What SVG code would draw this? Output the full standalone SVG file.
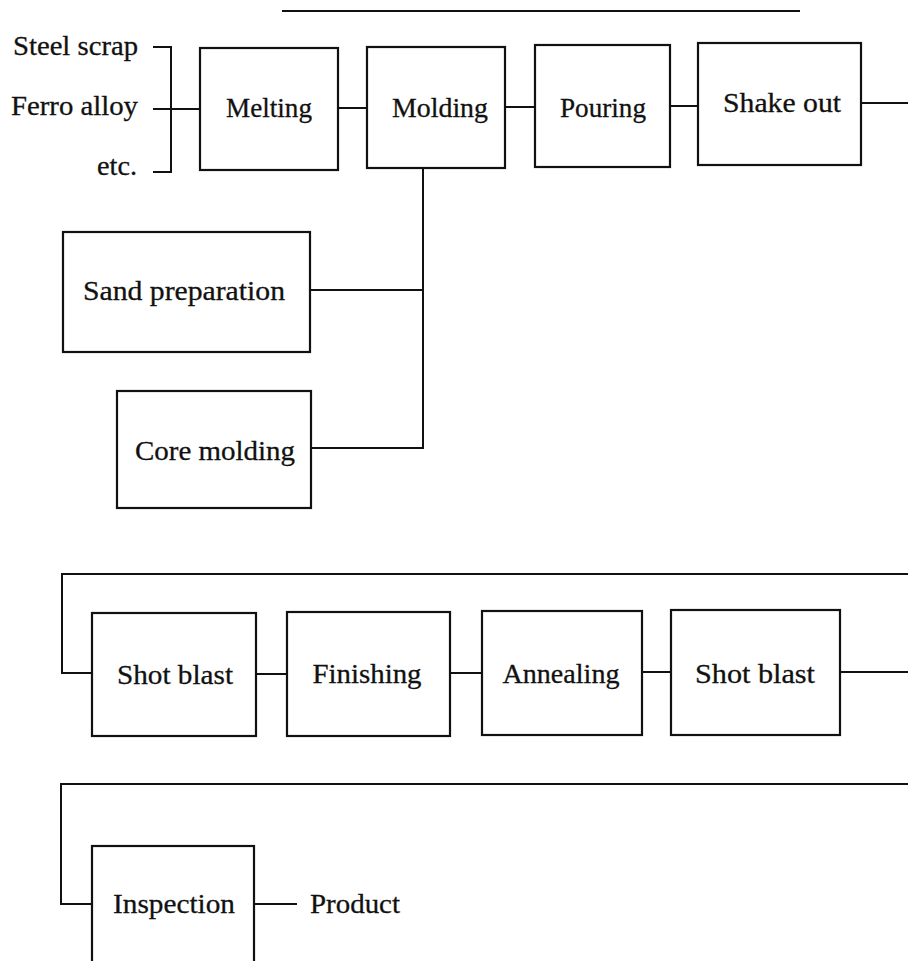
<svg xmlns="http://www.w3.org/2000/svg" width="908" height="961" viewBox="0 0 908 961">
  <style>
    .box { fill: none; stroke: #111; stroke-width: 2.2; }
    .ln { fill: none; stroke: #111; stroke-width: 2; }
    text { font-family: "Liberation Serif", "Times New Roman", serif; font-size: 28px; fill: #111; stroke: #111; stroke-width: 0.3; }
  </style>
  <rect width="908" height="961" fill="#fff"/>

  <!-- title rule -->
  <line class="ln" x1="282" y1="11" x2="800" y2="11" stroke-width="2.5"/>

  <!-- raw materials -->
  <g id="inputs">
    <text x="13" y="55" textLength="125" lengthAdjust="spacingAndGlyphs">Steel scrap</text>
    <text x="11" y="115" textLength="127" lengthAdjust="spacingAndGlyphs">Ferro alloy</text>
    <text x="97" y="175" textLength="40" lengthAdjust="spacingAndGlyphs">etc.</text>
  </g>

  <g id="connectors">
    <!-- input bracket -->
    <polyline class="ln" points="153,47 171,47 171,172 153,172"/>
    <line class="ln" x1="153" y1="109" x2="200" y2="109"/>
    <!-- row 1 -->
    <line class="ln" x1="338" y1="108" x2="367" y2="108"/>
    <line class="ln" x1="505" y1="107" x2="535" y2="107"/>
    <line class="ln" x1="670" y1="106" x2="698" y2="106"/>
    <line class="ln" x1="861" y1="103" x2="908" y2="103"/>
    <!-- molding feeders -->
    <polyline class="ln" points="423,168 423,448 311,448"/>
    <line class="ln" x1="310" y1="290" x2="423" y2="290"/>
    <!-- return to row 2 -->
    <polyline class="ln" points="908,574 62,574 62,673 92,673"/>
    <line class="ln" x1="256" y1="674" x2="287" y2="674"/>
    <line class="ln" x1="450" y1="673" x2="482" y2="673"/>
    <line class="ln" x1="642" y1="672" x2="671" y2="672"/>
    <line class="ln" x1="840" y1="672" x2="908" y2="672"/>
    <!-- return to row 3 -->
    <polyline class="ln" points="908,784 61,784 61,904 92,904"/>
    <line class="ln" x1="254" y1="904" x2="297" y2="904"/>
  </g>

  <g id="melting">
    <rect class="box" x="200" y="48" width="138" height="122"/>
    <text x="269" y="117" text-anchor="middle" textLength="86" lengthAdjust="spacingAndGlyphs">Melting</text>
  </g>
  <g id="molding">
    <rect class="box" x="367" y="47" width="138" height="121"/>
    <text x="440" y="117" text-anchor="middle" textLength="96" lengthAdjust="spacingAndGlyphs">Molding</text>
  </g>
  <g id="pouring">
    <rect class="box" x="535" y="45" width="135" height="122"/>
    <text x="603" y="117" text-anchor="middle" textLength="86" lengthAdjust="spacingAndGlyphs">Pouring</text>
  </g>
  <g id="shake-out">
    <rect class="box" x="698" y="43" width="163" height="122"/>
    <text x="782" y="112" text-anchor="middle" textLength="118" lengthAdjust="spacingAndGlyphs">Shake out</text>
  </g>
  <g id="sand-preparation">
    <rect class="box" x="63" y="232" width="247" height="120"/>
    <text x="184" y="300" text-anchor="middle" textLength="202" lengthAdjust="spacingAndGlyphs">Sand preparation</text>
  </g>
  <g id="core-molding">
    <rect class="box" x="117" y="391" width="194" height="117"/>
    <text x="215" y="460" text-anchor="middle" textLength="160" lengthAdjust="spacingAndGlyphs">Core molding</text>
  </g>

  <g id="shot-blast-1">
    <rect class="box" x="92" y="613" width="164" height="123"/>
    <text x="175" y="684" text-anchor="middle" textLength="116" lengthAdjust="spacingAndGlyphs">Shot blast</text>
  </g>
  <g id="finishing">
    <rect class="box" x="287" y="612" width="163" height="124"/>
    <text x="367" y="683" text-anchor="middle" textLength="109" lengthAdjust="spacingAndGlyphs">Finishing</text>
  </g>
  <g id="annealing">
    <rect class="box" x="482" y="611" width="160" height="124"/>
    <text x="561" y="683" text-anchor="middle" textLength="117" lengthAdjust="spacingAndGlyphs">Annealing</text>
  </g>
  <g id="shot-blast-2">
    <rect class="box" x="671" y="610" width="169" height="125"/>
    <text x="755" y="683" text-anchor="middle" textLength="120" lengthAdjust="spacingAndGlyphs">Shot blast</text>
  </g>

  <g id="inspection">
    <rect class="box" x="92" y="846" width="162" height="130"/>
    <text x="174" y="913" text-anchor="middle" textLength="122" lengthAdjust="spacingAndGlyphs">Inspection</text>
  </g>
  <g id="product">
    <text x="310" y="913" textLength="90" lengthAdjust="spacingAndGlyphs">Product</text>
  </g>
</svg>
